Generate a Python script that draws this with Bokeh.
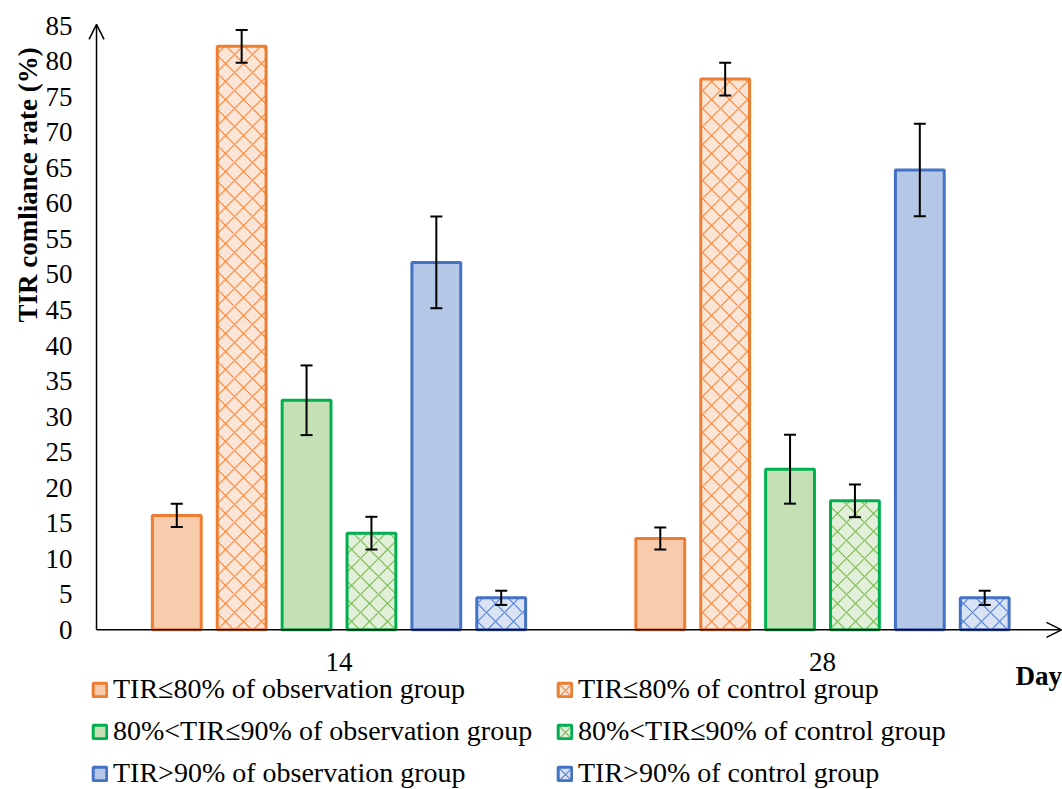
import math
from bokeh.plotting import figure
from bokeh.models import (ColumnDataSource, Whisker, TeeHead, Arrow, OpenHead, Label,
                          Legend, LegendItem, FixedTicker, Range1d)
from bokeh.embed import file_html
from bokeh.resources import INLINE

# ---------------- data ----------------
days = ["14", "28"]
series_names = [
    "TIR≤80% of observation group",
    "TIR≤80% of control group",
    "80%<TIR≤90% of observation group",
    "80%<TIR≤90% of control group",
    "TIR>90% of observation group",
    "TIR>90% of control group",
]
obs_le80 = [16.1, 12.85]
obs_le80_err = [1.65, 1.55]
ctrl_le80 = [82.1, 77.5]
ctrl_le80_err = [2.3, 2.3]
obs_80_90 = [32.3, 22.6]
obs_80_90_err = [4.9, 4.85]
ctrl_80_90 = [13.6, 18.15]
ctrl_80_90_err = [2.3, 2.3]
obs_gt90 = [51.7, 64.7]
obs_gt90_err = [6.45, 6.5]
ctrl_gt90 = [4.5, 4.5]
ctrl_gt90_err = [1.0, 1.0]
y_ticks = list(range(0, 90, 5))

series_values = [obs_le80, ctrl_le80, obs_80_90, ctrl_80_90, obs_gt90, ctrl_gt90]
series_errors = [obs_le80_err, ctrl_le80_err, obs_80_90_err, ctrl_80_90_err, obs_gt90_err, ctrl_gt90_err]

# ---------------- styles ----------------
FONT = "Liberation Serif"
line_colors = ["#ED7D31", "#ED7D31", "#00B050", "#00B050", "#4472C4", "#4472C4"]
fill_colors = ["#F8CBAD", "#FBE5D6", "#C5E0B4", "#E2F0D9", "#B4C7E7", "#DAE3F3"]
hatch_colors = [None, "#ED7D31", None, "#70AD47", None, "#4472C4"]

W, H = 1062, 789
x_start, x_end = -0.7001, 1.4964
y_start, y_end = -22.47, 88.55
x_axis_pos = -0.5015

p = figure(width=W, height=H, output_backend="svg", toolbar_location=None,
           x_range=Range1d(x_start, x_end), y_range=Range1d(y_start, y_end),
           min_border_left=0, min_border_right=0, min_border_top=0, min_border_bottom=0)
p.title.visible = False
p.outline_line_color = None
p.xgrid.visible = False
p.ygrid.visible = False
p.background_fill_color = "white"
p.border_fill_color = "white"

slot = 0.1342
bar_w = 0.101
renderers = []
for i, (vals, errs) in enumerate(zip(series_values, series_errors)):
    xs = [d + (i - 2.5) * slot for d in range(len(days))]
    src = ColumnDataSource(dict(x=xs, top=vals,
                                upper=[v + e for v, e in zip(vals, errs)],
                                lower=[v - e for v, e in zip(vals, errs)]))
    kw = dict(x="x", top="top", bottom=0, width=bar_w, source=src,
              fill_color=fill_colors[i], line_color=line_colors[i], line_width=3)
    if hatch_colors[i] is not None:
        kw.update(hatch_pattern="diagonal_cross", hatch_color=hatch_colors[i],
                  hatch_scale=18, hatch_weight=1.2, hatch_alpha=0.85)
    r = p.vbar(**kw)
    renderers.append(r)
    wh = Whisker(source=src, base="x", upper="upper", lower="lower", level="overlay",
                 line_color="black", line_width=2,
                 upper_head=TeeHead(size=12, line_width=2, line_color="black"),
                 lower_head=TeeHead(size=12, line_width=2, line_color="black"))
    p.add_layout(wh)

# axes (drawn at fixed positions inside the frame)
p.yaxis.fixed_location = x_axis_pos
p.yaxis.ticker = FixedTicker(ticks=y_ticks)
p.yaxis.axis_line_color = None
p.yaxis.major_tick_line_color = None
p.yaxis.minor_tick_line_color = None
p.yaxis.major_tick_out = 0
p.yaxis.major_tick_in = 0
p.yaxis.major_label_standoff = 24
p.yaxis.major_label_text_font = FONT
p.yaxis.major_label_text_font_size = "27px"
p.yaxis.major_label_text_color = "black"

p.xaxis.fixed_location = 0
p.xaxis.ticker = FixedTicker(ticks=list(range(len(days))))
p.xaxis.major_label_overrides = {i: d for i, d in enumerate(days)}
p.xaxis.axis_line_color = None
p.xaxis.major_tick_line_color = None
p.xaxis.minor_tick_line_color = None
p.xaxis.major_tick_out = 0
p.xaxis.major_tick_in = 0
p.xaxis.major_label_standoff = 23
p.xaxis.major_label_text_font = FONT
p.xaxis.major_label_text_font_size = "27px"
p.xaxis.major_label_text_color = "black"

# axis arrows
p.add_layout(Arrow(x_start=x_axis_pos, y_start=0, x_end=x_axis_pos, y_end=85.2,
                   line_color="black", line_width=1.5, level="overlay",
                   end=OpenHead(size=15, line_width=1.5, line_color="black")))
p.add_layout(Arrow(x_start=x_axis_pos, y_start=0, x_end=1.4943, y_end=0,
                   line_color="black", line_width=1.5, level="overlay",
                   end=OpenHead(size=15, line_width=1.5, line_color="black")))

# axis titles
p.add_layout(Label(x=-0.6435, y=62.6, text="TIR comliance rate (%)", angle=math.pi / 2,
                   text_font=FONT, text_font_style="bold", text_font_size="27px",
                   text_align="center", text_baseline="middle", text_color="black"))
p.add_layout(Label(x=1.3992, y=-6.43, text="Day",
                   text_font=FONT, text_font_style="bold", text_font_size="27px",
                   text_align="left", text_baseline="middle", text_color="black"))

# legends (two columns)
def make_legend(idx, loc):
    return Legend(items=[LegendItem(label=series_names[i], renderers=[renderers[i]]) for i in idx],
                  location=loc, orientation="vertical",
                  label_text_font=FONT, label_text_font_size="28px", label_text_color="black",
                  glyph_width=17, glyph_height=17, label_height=32, label_standoff=5,
                  spacing=10, padding=0, margin=0,
                  border_line_color=None, background_fill_alpha=0)

p.add_layout(make_legend([0, 2, 4], (91, 0)))
p.add_layout(make_legend([1, 3, 5], (556, 0)))

open("out.html", "w").write(file_html(p, INLINE))
